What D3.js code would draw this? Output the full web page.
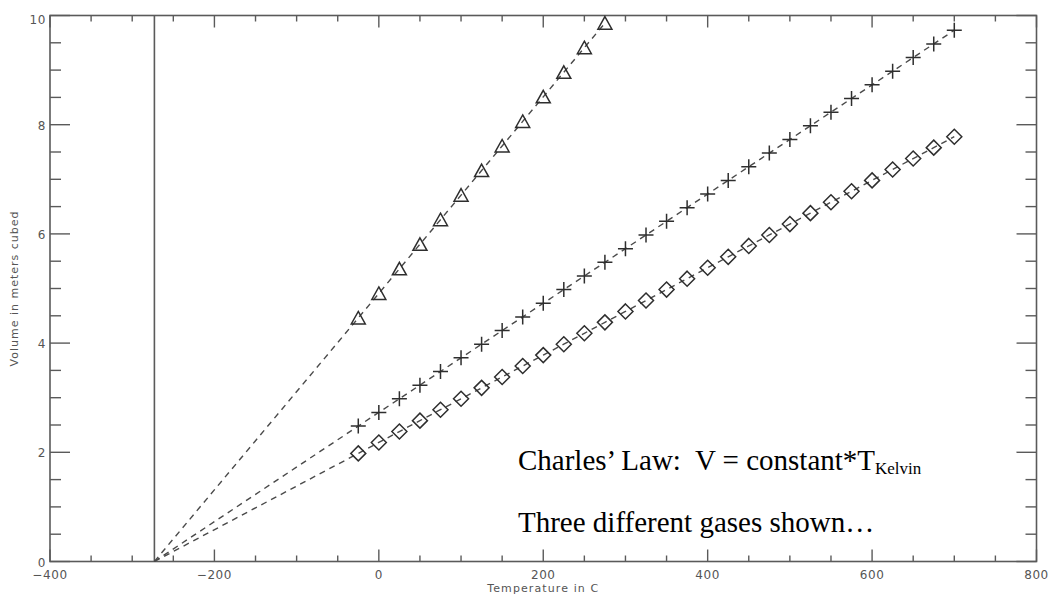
<!DOCTYPE html>
<html>
<head>
<meta charset="utf-8">
<script src="https://cdn.jsdelivr.net/npm/d3@7"></script>
<style>
    body { margin: 0; background: #fff; }
    svg { display: block; }
</style>
</head>
<body>
<svg id="viz"></svg>
<script>
var width = 1049;
var height = 596;

// temperatures (C) where the gases were measured
var tempsTri = [-25, 0, 25, 50, 75, 100, 125, 150, 175, 200, 225, 250, 275];
var tempsLong = [-25, 0, 25, 50, 75, 100, 125, 150, 175, 200, 225, 250, 275, 300, 325,
    350, 375, 400, 425, 450, 475, 500, 525, 550, 575, 600, 625, 650, 675, 700];

// volumes
var volTri = [4.46, 4.91, 5.36, 5.81, 6.26, 6.71, 7.16, 7.61, 8.06, 8.51, 8.96, 9.41, 9.86];
var volPlus = [2.48, 2.73, 2.98, 3.23, 3.48, 3.73, 3.98, 4.23, 4.48, 4.73, 4.98, 5.23, 5.48, 5.73, 5.98,
    6.23, 6.48, 6.73, 6.98, 7.23, 7.48, 7.73, 7.98, 8.23, 8.48, 8.73, 8.98, 9.23, 9.48, 9.73];
var volDiamond = [1.98, 2.18, 2.38, 2.58, 2.78, 2.98, 3.18, 3.38, 3.58, 3.78, 3.98, 4.18, 4.38, 4.58, 4.78,
    4.98, 5.18, 5.38, 5.58, 5.78, 5.98, 6.18, 6.38, 6.58, 6.78, 6.98, 7.18, 7.38, 7.58, 7.78];

var absZero = -273;
var xTicks = [-400, -200, 0, 200, 400, 600, 800];
var yTicks = [0, 2, 4, 6, 8, 10];

var axisColor = "#5a5a5a";
var lineColor = "#4a4a4a";
var markColor = "#2e2e2e";
var labelColor = "#555";

var x = d3.scaleLinear().domain([-400, 800]).range([50, 1036.5]);
var y = d3.scaleLinear().domain([0, 10]).range([561.5, 15.5]);

var svg = d3.select("#viz").attr("width", width).attr("height", height);

// build the series (each line starts at absolute zero)
function makeSeries(temps, vols, shape) {
    var pts = temps.map(function (t, i) {
        return { t: t, v: vols[i] };
    });
    return { shape: shape, line: [{ t: absZero, v: 0 }].concat(pts), pts: pts };
}

var series = [
    makeSeries(tempsTri, volTri, "tri"),
    makeSeries(tempsLong, volPlus, "plus"),
    makeSeries(tempsLong, volDiamond, "diamond")
];

var shapes = {
    tri: "M0,-6.5L7,6L-7,6Z",
    plus: "M-7.5,0H7.5M0,-7.5V7.5",
    diamond: "M0,-7.5L7.5,0L0,7.5L-7.5,0Z"
};

// ticks, all four sides
var xMinor = d3.range(-400, 801, 50);
var yMinor = d3.range(0, 10.01, 0.5);

var ticks = svg.append("g")
    .attr("stroke", axisColor)
    .attr("stroke-width", 1.4);

xMinor.forEach(function (t) {
    var len = (t % 200 == 0) ? 12 : 6;
    ticks.append("line")
        .attr("x1", x(t)).attr("x2", x(t))
        .attr("y1", y(0)).attr("y2", y(0) - len);
    ticks.append("line")
        .attr("x1", x(t)).attr("x2", x(t))
        .attr("y1", y(10)).attr("y2", y(10) + len);
});

yMinor.forEach(function (v) {
    var major = Math.abs(v / 2 - Math.round(v / 2)) < 1e-6;
    var len = major ? 20 : 11;
    ticks.append("line")
        .attr("x1", x(-400)).attr("x2", x(-400) + len)
        .attr("y1", y(v)).attr("y2", y(v));
    ticks.append("line")
        .attr("x1", x(800)).attr("x2", x(800) - len)
        .attr("y1", y(v)).attr("y2", y(v));
});

// absolute zero marker line
svg.append("line")
    .attr("x1", x(absZero)).attr("x2", x(absZero))
    .attr("y1", y(0)).attr("y2", y(10))
    .attr("stroke", axisColor)
    .attr("stroke-width", 1.6);

// frame
svg.append("rect")
    .attr("x", x(-400)).attr("y", y(10))
    .attr("width", x(800) - x(-400))
    .attr("height", y(0) - y(10))
    .attr("fill", "none")
    .attr("stroke", axisColor)
    .attr("stroke-width", 1.6);

// tick labels
var fmt = d3.format("d");

svg.append("g").selectAll("text")
    .data(xTicks)
    .enter()
    .append("text")
    .attr("x", function (d) { return x(d); })
    .attr("y", 579)
    .attr("text-anchor", "middle")
    .style("font-family", "DejaVu Sans")
    .style("font-size", "12px")
    .style("letter-spacing", "0.6px")
    .style("fill", labelColor)
    .text(function (d) { return fmt(d); });

svg.append("g").selectAll("text")
    .data(yTicks)
    .enter()
    .append("text")
    .attr("x", 46)
    .attr("y", function (d) { return y(d) + (d == 10 ? 8 : 5); })
    .attr("text-anchor", "end")
    .style("font-family", "DejaVu Sans")
    .style("font-size", "12px")
    .style("letter-spacing", "0.6px")
    .style("fill", labelColor)
    .text(function (d) { return fmt(d); });

// axis titles
svg.append("text")
    .attr("x", x(200))
    .attr("y", 592)
    .attr("text-anchor", "middle")
    .style("font-family", "DejaVu Sans")
    .style("font-size", "11px")
    .style("letter-spacing", "1.1px")
    .style("fill", labelColor)
    .text("Temperature in C");

svg.append("text")
    .attr("transform", "translate(18," + y(5) + ") rotate(-90)")
    .attr("text-anchor", "middle")
    .style("font-family", "DejaVu Sans")
    .style("font-size", "11px")
    .style("letter-spacing", "1px")
    .style("fill", labelColor)
    .text("Volume in meters cubed");

// dashed lines
var line = d3.line()
    .x(function (d) { return x(d.t); })
    .y(function (d) { return y(d.v); });

svg.append("g").selectAll("path")
    .data(series)
    .enter()
    .append("path")
    .attr("d", function (d) { return line(d.line); })
    .attr("fill", "none")
    .attr("stroke", lineColor)
    .attr("stroke-width", 1.4)
    .attr("stroke-dasharray", "6,5");

// markers
series.forEach(function (s) {
    svg.append("g").selectAll("path")
        .data(s.pts)
        .enter()
        .append("path")
        .attr("transform", function (d) {
            return "translate(" + x(d.t) + "," + y(d.v) + ")";
        })
        .attr("d", shapes[s.shape])
        .attr("fill", "none")
        .attr("stroke", markColor)
        .attr("stroke-width", 1.5);
});

// annotation
var note = svg.append("g")
    .style("font-family", "'Liberation Serif', 'Times New Roman', serif")
    .style("font-size", "29px")
    .style("fill", "#000");

var l1 = note.append("text")
    .attr("x", 518)
    .attr("y", 470)
    .attr("xml:space", "preserve")
    .text("Charles\u2019 Law:  V = constant*T");
l1.append("tspan")
    .attr("dy", 4)
    .style("font-size", "17px")
    .text("Kelvin");

note.append("text")
    .attr("x", 518)
    .attr("y", 532)
    .text("Three different gases shown\u2026");
</script>
</body>
</html>
